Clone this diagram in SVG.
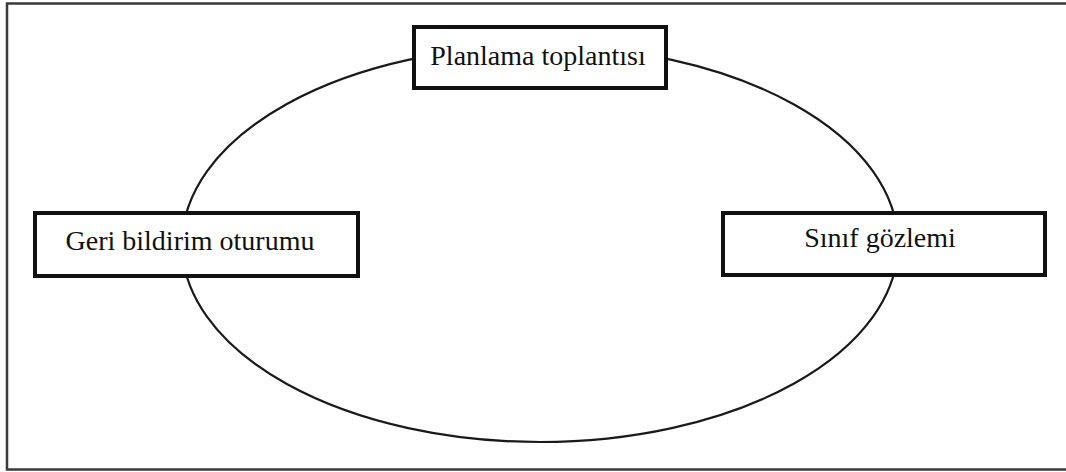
<svg xmlns="http://www.w3.org/2000/svg" width="1066" height="472" viewBox="0 0 1066 472">
  <style>
    .frame { fill: none; stroke: #3a3a3a; stroke-width: 2.5; }
    .cycle { fill: none; stroke: #1a1a1a; stroke-width: 2.2; }
    .box { fill: #ffffff; stroke: #111111; stroke-width: 4; }
    .label { font-family: "Liberation Serif", "Times New Roman", serif; font-size: 28px; fill: #111111; text-anchor: middle; }
  </style>
  <rect x="0" y="0" width="1066" height="472" fill="#ffffff"/>
  <!-- outer frame (right edge runs past the canvas) -->
  <rect class="frame" x="7" y="3.5" width="1080" height="466"/>

  <!-- cycle connector -->
  <g id="connectors">
    <ellipse class="cycle" cx="540" cy="244" rx="358" ry="198"/>
  </g>

  <g id="planlama">
    <rect class="box" x="414" y="27" width="252" height="61"/>
    <text class="label" x="538" y="65">Planlama toplantısı</text>
  </g>

  <g id="geri-bildirim">
    <rect class="box" x="35" y="213" width="323" height="63"/>
    <text class="label" x="190" y="250">Geri bildirim oturumu</text>
  </g>

  <g id="sinif-gozlemi">
    <rect class="box" x="723" y="213" width="322" height="62"/>
    <text class="label" x="880" y="247">Sınıf gözlemi</text>
  </g>
</svg>
